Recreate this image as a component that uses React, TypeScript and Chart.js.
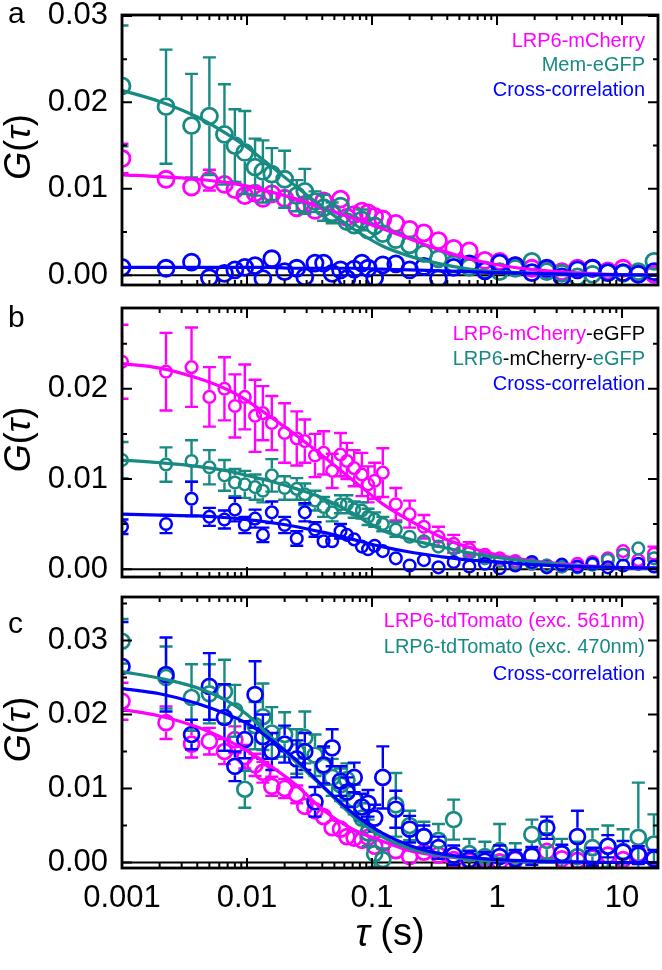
import React, { useEffect, useRef } from 'react';
import { Chart, registerables } from 'chart.js';

Chart.register(...registerables);

const FONT = '"Liberation Sans", Arial, Helvetica, sans-serif';
Chart.defaults.font.family = FONT;

const MAGENTA = '#ff00ff';
const TEAL = '#178a82';
const BLUE = '#0000ff';
const BLACK = '#000000';

// lag times (s) of the data points
const tau = [0.001, 0.00225, 0.0036, 0.005, 0.0066, 0.008, 0.0096, 0.0116, 0.0134, 0.0158, 0.02, 0.025, 0.029, 0.035, 0.041, 0.048, 0.056, 0.063, 0.072, 0.083, 0.093, 0.105, 0.122, 0.155, 0.2, 0.26, 0.34, 0.45, 0.6, 0.8, 1.05, 1.4, 1.9, 2.5, 3.3, 4.4, 5.8, 7.7, 10.2, 13.5, 18];
// lag times (s) at which the fit curves are sampled
const fitTau = [0.001, 0.002, 0.004, 0.007, 0.01, 0.015, 0.025, 0.04, 0.07, 0.12, 0.2, 0.35, 0.6, 1, 2, 4, 8, 20];

// ---------- panel a ----------
const aMagenta = [0.0135, 0.0111, 0.0102, 0.0110, 0.0105, 0.0099, 0.0092, 0.0095, 0.0089, 0.0094, 0.0089, 0.0078, 0.0082, 0.0075, 0.0086, 0.0071, 0.0088, 0.0067, 0.0070, 0.0074, 0.0072, 0.0068, 0.0065, 0.0060, 0.0053, 0.0049, 0.0040, 0.0031, 0.0028, 0.0017, 0.0016, 0.0011, 0.0008, 0.0005, 0.0004, 0.0008, 0.0008, 0.0005, 0.0008, 0.0002, 0.0001];
const aMagentaErr = [0.0017, 0.0010, 0.0008, 0.0012, 0.0010, 0.0009, 0.0009, 0.0008, 0.0009, 0.0008, 0.0009, 0.0009, 0.0008, 0.0008, 0.0008, 0.0008, 0.0009, 0.0007, 0.0007, 0.0008, 0.0007, 0.0007, 0.0007, 0.0006, 0.0006, 0.0005, 0.0005, 0.0005, 0.0004, 0.0004, 0.0004, 0.0004, 0.0003, 0.0003, 0.0003, 0.0003, 0.0003, 0.0003, 0.0003, 0.0003, 0.0003];
const aTeal = [0.0219, 0.0195, 0.0173, 0.0184, 0.0163, 0.0150, 0.0142, 0.0125, 0.0120, 0.0117, 0.0111, 0.0092, 0.0097, 0.0085, 0.0078, 0.0072, 0.0080, 0.0062, 0.0058, 0.0064, 0.0052, 0.0057, 0.0048, 0.0041, 0.0035, 0.0025, 0.0019, 0.0013, 0.0009, 0.0006, 0.0004, 0.0008, 0.0016, 0.0004, 0.0002, -0.0002, 0.0001, 0.0003, 0.0002, 0.0004, 0.0016];
const aTealErr = [0.0070, 0.0066, 0.0060, 0.0068, 0.0058, 0.0042, 0.0048, 0.0033, 0.0036, 0.0030, 0.0033, 0.0018, 0.0026, 0.0012, 0.0015, 0.0012, 0.0010, 0.0010, 0.0009, 0.0012, 0.0010, 0.0009, 0.0009, 0.0008, 0.0007, 0.0006, 0.0006, 0.0005, 0.0005, 0.0004, 0.0004, 0.0005, 0.0006, 0.0004, 0.0004, 0.0004, 0.0004, 0.0004, 0.0004, 0.0005, 0.0009];
const aBlue = [0.0009, 0.0008, 0.0015, -0.0003, 0.0002, 0.0006, 0.0009, 0.0011, -0.0004, 0.0019, 0.0004, 0.0008, -0.0002, 0.0014, 0.0014, 0.0002, 0.0006, -0.0004, 0.0007, 0.0014, 0.0008, -0.0003, 0.0012, 0.0013, 0.0006, 0.0010, -0.0004, 0.0009, 0.0013, 0.0005, 0.0014, 0.0011, 0.0003, 0.0008, -0.0002, 0.0006, 0.0008, 0.0003, 0.0003, 0.0001, 0.0004];
const aBlueErr = [0.0004, 0.0003, 0.0004, 0.0003, 0.0003, 0.0003, 0.0004, 0.0003, 0.0003, 0.0004, 0.0003, 0.0003, 0.0003, 0.0004, 0.0003, 0.0003, 0.0003, 0.0003, 0.0003, 0.0003, 0.0003, 0.0003, 0.0003, 0.0003, 0.0003, 0.0002, 0.0002, 0.0002, 0.0002, 0.0002, 0.0002, 0.0002, 0.0002, 0.0002, 0.0002, 0.0002, 0.0002, 0.0002, 0.0002, 0.0002, 0.0002];
const aFitMagenta = [0.0116, 0.0114, 0.0111, 0.0107, 0.0103, 0.0097, 0.0088, 0.0078, 0.0066, 0.0054, 0.0042, 0.0029, 0.0019, 0.0012, 0.0006, 0.0003, 0.0001, 0.00004];
const aFitTeal = [0.0214, 0.0201, 0.0183, 0.0163, 0.0148, 0.0128, 0.0102, 0.0079, 0.0054, 0.0034, 0.0022, 0.0013, 0.0007, 0.0004, 0.0002, 0.0001, 0.00004, 0.0];
const aFitBlue = [0.0009, 0.0009, 0.0009, 0.0009, 0.0009, 0.0009, 0.0008, 0.0008, 0.0008, 0.0007, 0.0006, 0.0005, 0.0004, 0.0003, 0.0002, 0.0001, 0.00005, 0.0];

// ---------- panel b ----------
const bMagenta = [0.0230, 0.0219, 0.0224, 0.0191, 0.0200, 0.0181, 0.0191, 0.0170, 0.0173, 0.0162, 0.0151, 0.0145, 0.0142, 0.0126, 0.0129, 0.0109, 0.0127, 0.0120, 0.0112, 0.0105, 0.0094, 0.0098, 0.0107, 0.0072, 0.0061, 0.0047, 0.0036, 0.0028, 0.0022, 0.0016, 0.0012, 0.0009, 0.0006, 0.0004, 0.0003, 0.0006, 0.0008, 0.0012, 0.0020, 0.0010, 0.0017];
const bMagentaErr = [0.0041, 0.0043, 0.0044, 0.0033, 0.0035, 0.0035, 0.0036, 0.0040, 0.0030, 0.0030, 0.0033, 0.0030, 0.0024, 0.0024, 0.0024, 0.0019, 0.0024, 0.0020, 0.0020, 0.0024, 0.0020, 0.0020, 0.0027, 0.0018, 0.0015, 0.0013, 0.0011, 0.0010, 0.0008, 0.0007, 0.0006, 0.0006, 0.0005, 0.0005, 0.0005, 0.0005, 0.0006, 0.0006, 0.0007, 0.0006, 0.0008];
const bTeal = [0.0121, 0.0116, 0.0120, 0.0113, 0.0104, 0.0096, 0.0094, 0.0091, 0.0087, 0.0104, 0.0090, 0.0089, 0.0083, 0.0076, 0.0069, 0.0063, 0.0072, 0.0072, 0.0066, 0.0065, 0.0058, 0.0055, 0.0050, 0.0044, 0.0036, 0.0031, 0.0025, 0.0023, 0.0018, 0.0012, 0.0009, 0.0007, 0.0006, 0.0004, 0.0003, 0.0002, 0.0005, 0.0010, 0.0016, 0.0023, 0.0012];
const bTealErr = [0.0020, 0.0019, 0.0023, 0.0019, 0.0017, 0.0015, 0.0015, 0.0014, 0.0013, 0.0018, 0.0013, 0.0012, 0.0012, 0.0011, 0.0011, 0.0010, 0.0010, 0.0010, 0.0009, 0.0009, 0.0009, 0.0008, 0.0008, 0.0008, 0.0007, 0.0007, 0.0006, 0.0006, 0.0005, 0.0005, 0.0004, 0.0004, 0.0004, 0.0004, 0.0004, 0.0004, 0.0005, 0.0005, 0.0006, 0.0006, 0.0006];
const bBlue = [0.0047, 0.0050, 0.0078, 0.0058, 0.0055, 0.0066, 0.0049, 0.0056, 0.0038, 0.0063, 0.0049, 0.0034, 0.0063, 0.0044, 0.0031, 0.0031, 0.0042, 0.0038, 0.0033, 0.0025, 0.0022, 0.0026, 0.0020, 0.0012, 0.0004, 0.0010, 0.0002, 0.0008, 0.0003, 0.0006, 0.0001, 0.0004, 0.0008, 0.0002, 0.0005, 0.0003, 0.0006, 0.0002, 0.0004, 0.0006, 0.0003];
const bBlueErr = [0.0008, 0.0010, 0.0019, 0.0010, 0.0010, 0.0013, 0.0009, 0.0010, 0.0008, 0.0012, 0.0009, 0.0008, 0.0010, 0.0008, 0.0007, 0.0007, 0.0008, 0.0007, 0.0007, 0.0006, 0.0006, 0.0006, 0.0005, 0.0005, 0.0004, 0.0004, 0.0004, 0.0004, 0.0003, 0.0003, 0.0003, 0.0003, 0.0003, 0.0003, 0.0003, 0.0003, 0.0003, 0.0003, 0.0003, 0.0003, 0.0003];
const bFitMagenta = [0.0228, 0.0223, 0.0212, 0.0199, 0.0187, 0.0170, 0.0148, 0.0126, 0.0099, 0.0073, 0.0054, 0.0036, 0.0024, 0.0016, 0.0009, 0.0005, 0.0002, 0.0001];
const bFitTeal = [0.0121, 0.0118, 0.0114, 0.0109, 0.0104, 0.0098, 0.0089, 0.0079, 0.0062, 0.0043, 0.0033, 0.0025, 0.0018, 0.0013, 0.0008, 0.0004, 0.0002, 0.0001];
const bFitBlue = [0.0061, 0.0060, 0.0059, 0.0057, 0.0055, 0.0052, 0.0047, 0.0041, 0.0033, 0.0025, 0.0019, 0.0014, 0.0010, 0.0008, 0.0005, 0.0003, 0.0002, 0.0001];

// ---------- panel c ----------
const cMagenta = [0.0218, 0.0189, 0.0160, 0.0164, 0.0150, 0.0166, 0.0143, 0.0132, 0.0122, 0.0103, 0.0100, 0.0092, 0.0076, 0.0070, 0.0062, 0.0047, 0.0045, 0.0035, 0.0033, 0.0030, 0.0034, 0.0022, 0.0026, 0.0016, 0.0008, 0.0014, 0.0010, 0.0004, 0.0002, 0.0006, 0.0001, 0.0004, 0.0009, 0.0015, 0.0005, 0.0003, 0.0006, 0.0010, 0.0004, 0.0012, 0.0006];
const cMagentaErr = [0.0025, 0.0022, 0.0018, 0.0018, 0.0017, 0.0018, 0.0016, 0.0015, 0.0014, 0.0013, 0.0013, 0.0012, 0.0011, 0.0011, 0.0010, 0.0010, 0.0009, 0.0009, 0.0009, 0.0008, 0.0009, 0.0008, 0.0008, 0.0007, 0.0007, 0.0007, 0.0006, 0.0006, 0.0006, 0.0006, 0.0006, 0.0006, 0.0007, 0.0008, 0.0007, 0.0006, 0.0007, 0.0008, 0.0007, 0.0008, 0.0007];
const cTeal = [0.0299, 0.0250, 0.0223, 0.0228, 0.0231, 0.0205, 0.0099, 0.0185, 0.0197, 0.0175, 0.0173, 0.0150, 0.0169, 0.0145, 0.0130, 0.0115, 0.0105, 0.0112, 0.0085, 0.0060, 0.0040, 0.0012, 0.0004, 0.0078, 0.0050, 0.0035, 0.0030, 0.0058, 0.0012, 0.0008, 0.0016, 0.0006, 0.0038, 0.0030, 0.0012, 0.0008, 0.0020, 0.0022, 0.0015, 0.0034, 0.0025];
const cTealErr = [0.0030, 0.0042, 0.0045, 0.0040, 0.0043, 0.0035, 0.0025, 0.0032, 0.0045, 0.0035, 0.0030, 0.0030, 0.0035, 0.0028, 0.0025, 0.0025, 0.0022, 0.0022, 0.0020, 0.0020, 0.0018, 0.0018, 0.0015, 0.0043, 0.0020, 0.0020, 0.0022, 0.0027, 0.0020, 0.0020, 0.0036, 0.0020, 0.0020, 0.0025, 0.0020, 0.0020, 0.0025, 0.0028, 0.0030, 0.0074, 0.0040];
const cBlue = [0.0265, 0.0254, 0.0173, 0.0238, 0.0196, 0.0130, 0.0166, 0.0227, 0.0170, 0.0150, 0.0160, 0.0140, 0.0150, 0.0082, 0.0132, 0.0155, 0.0110, 0.0095, 0.0115, 0.0075, 0.0080, 0.0060, 0.0115, 0.0072, 0.0045, 0.0035, 0.0020, 0.0010, 0.0004, 0.0002, 0.0008, 0.0005, 0.0009, 0.0047, 0.0012, 0.0035, 0.0008, 0.0022, 0.0014, 0.0010, 0.0005];
const cBlueErr = [0.0060, 0.0050, 0.0020, 0.0045, 0.0045, 0.0020, 0.0025, 0.0045, 0.0030, 0.0025, 0.0025, 0.0025, 0.0025, 0.0020, 0.0025, 0.0025, 0.0020, 0.0020, 0.0020, 0.0018, 0.0018, 0.0018, 0.0042, 0.0025, 0.0018, 0.0015, 0.0015, 0.0013, 0.0012, 0.0012, 0.0015, 0.0012, 0.0012, 0.0015, 0.0012, 0.0035, 0.0012, 0.0015, 0.0015, 0.0012, 0.0012];
const cFitMagenta = [0.0207, 0.0198, 0.0183, 0.0165, 0.0151, 0.0132, 0.0104, 0.0072, 0.0045, 0.0029, 0.0016, 0.0009, 0.0005, 0.0003, 0.0001, 0.00005, 0.0, 0.0];
const cFitTeal = [0.0258, 0.0249, 0.0236, 0.0218, 0.0200, 0.0172, 0.0135, 0.0103, 0.0063, 0.0035, 0.0019, 0.0010, 0.0005, 0.0003, 0.0001, 0.00005, 0.0, 0.0];
const cFitBlue = [0.0235, 0.0228, 0.0215, 0.0200, 0.0188, 0.0168, 0.0138, 0.0104, 0.0067, 0.0040, 0.0023, 0.0012, 0.0007, 0.0004, 0.0002, 0.0001, 0.0, 0.0];

// ---------- axes ----------
const xTickValues = [0.001, 0.01, 0.1, 1, 10];
const xTickLabels = ['0.001', '0.01', '0.1', '1', '10'];
const yTicksA = [0, 0.01, 0.02, 0.03];
const yLabelsA = ['0.00', '0.01', '0.02', '0.03'];
const yMinorA = [0.005, 0.015, 0.025];
const yTicksB = [0, 0.01, 0.02];
const yLabelsB = ['0.00', '0.01', '0.02'];
const yMinorB = [0.005, 0.015, 0.025];
const yTicksC = [0, 0.01, 0.02, 0.03];
const yLabelsC = ['0.00', '0.01', '0.02', '0.03'];
const yMinorC = [0.005, 0.015, 0.025, 0.035];

// ---------- legends ----------
const legendA = [
  [{ text: 'LRP6-mCherry', color: MAGENTA }],
  [{ text: 'Mem-eGFP', color: TEAL }],
  [{ text: 'Cross-correlation', color: BLUE }],
];
const legendB = [
  [{ text: 'LRP6-mCherry', color: MAGENTA }, { text: '-eGFP', color: BLACK }],
  [{ text: 'LRP6', color: TEAL }, { text: '-mCherry-', color: BLACK }, { text: 'eGFP', color: TEAL }],
  [{ text: 'Cross-correlation', color: BLUE }],
];
const legendC = [
  [{ text: 'LRP6-tdTomato (exc. 561nm)', color: MAGENTA }],
  [{ text: 'LRP6-tdTomato (exc. 470nm)', color: TEAL }],
  [{ text: 'Cross-correlation', color: BLUE }],
];

const X_MIN = 0.001;
const X_MAX = 19.4;
const W = 662;

const panels = [
  {
    letter: 'a', top: 0, height: 295, plotTop: 15, plotBottom: 290, yMin: -0.00114, yMax: 0.03011,
    yTicks: yTicksA, yLabels: yLabelsA, yMinor: yMinorA, legend: legendA, legendBase: [47, 71, 96], letterBase: 23,
    radius: 8, border: 2.8, showX: false,
    series: [
      { color: BLUE, y: aBlue, err: aBlueErr, fit: aFitBlue },
      { color: TEAL, y: aTeal, err: aTealErr, fit: aFitTeal },
      { color: MAGENTA, y: aMagenta, err: aMagentaErr, fit: aFitMagenta },
    ],
  },
  {
    letter: 'b', top: 295, height: 290, plotTop: 13, plotBottom: 286, yMin: -0.00087, yMax: 0.02896,
    yTicks: yTicksB, yLabels: yLabelsB, yMinor: yMinorB, legend: legendB, legendBase: [45, 70, 95], letterBase: 32,
    radius: 5.8, border: 2.5, showX: false,
    series: [
      { color: BLUE, y: bBlue, err: bBlueErr, fit: bFitBlue },
      { color: TEAL, y: bTeal, err: bTealErr, fit: bFitTeal },
      { color: MAGENTA, y: bMagenta, err: bMagentaErr, fit: bFitMagenta },
    ],
  },
  {
    letter: 'c', top: 585, height: 385, plotTop: 12, plotBottom: 283, yMin: -0.00074, yMax: 0.03588,
    yTicks: yTicksC, yLabels: yLabelsC, yMinor: yMinorC, legend: legendC, legendBase: [42, 68, 95], letterBase: 48,
    radius: 7.5, border: 2.7, showX: true,
    series: [
      { color: BLUE, y: cBlue, err: cBlueErr, fit: cFitBlue },
      { color: TEAL, y: cTeal, err: cTealErr, fit: cFitTeal },
      { color: MAGENTA, y: cMagenta, err: cMagentaErr, fit: cFitMagenta },
    ],
  },
];

function drawSegments(ctx: CanvasRenderingContext2D, segs: { text: string; font: string; color?: string }[], x: number, y: number, align: 'center' | 'right') {
  let total = 0;
  const widths = segs.map((s) => {
    ctx.font = s.font;
    const w = ctx.measureText(s.text).width;
    total += w;
    return w;
  });
  let cx = align === 'center' ? x - total / 2 : x - total;
  segs.forEach((s, i) => {
    ctx.font = s.font;
    ctx.fillStyle = s.color || BLACK;
    ctx.textAlign = 'left';
    ctx.fillText(s.text, cx, y);
    cx += widths[i];
  });
}

function makePlugin(p: any) {
  return {
    id: 'decor' + p.letter,
    beforeDatasetsDraw(chart: any) {
      const { ctx, chartArea: ca } = chart;
      const y0 = chart.scales.y.getPixelForValue(0);
      ctx.save();
      ctx.strokeStyle = BLACK;
      ctx.lineWidth = 2;
      ctx.beginPath();
      ctx.moveTo(ca.left, y0);
      ctx.lineTo(ca.right, y0);
      ctx.stroke();
      ctx.restore();
    },
    afterDatasetDraw(chart: any, args: any) {
      const ds = chart.data.datasets[args.index];
      if (!ds.errors) return;
      const { ctx, chartArea: ca } = chart;
      const xs = chart.scales.x;
      const ys = chart.scales.y;
      const r = p.radius + p.border / 2;
      const cap = 6.5;
      ctx.save();
      ctx.beginPath();
      ctx.rect(ca.left, ca.top, ca.right - ca.left, ca.bottom - ca.top);
      ctx.clip();
      ctx.strokeStyle = ds.borderColor;
      ctx.lineWidth = 2.4;
      ctx.beginPath();
      ds.data.forEach((pt: any, i: number) => {
        const e = ds.errors[i];
        const px = xs.getPixelForValue(pt.x);
        const py = ys.getPixelForValue(pt.y);
        const top = ys.getPixelForValue(pt.y + e);
        const bot = ys.getPixelForValue(pt.y - e);
        if (top < py - r) {
          ctx.moveTo(px, py - r); ctx.lineTo(px, top);
          ctx.moveTo(px - cap, top); ctx.lineTo(px + cap, top);
        }
        if (bot > py + r) {
          ctx.moveTo(px, py + r); ctx.lineTo(px, bot);
          ctx.moveTo(px - cap, bot); ctx.lineTo(px + cap, bot);
        }
      });
      ctx.stroke();
      ctx.restore();
    },
    afterDraw(chart: any) {
      const { ctx, chartArea: ca } = chart;
      const xs = chart.scales.x;
      const ys = chart.scales.y;
      ctx.save();
      // ticks
      ctx.strokeStyle = BLACK;
      ctx.lineWidth = 2;
      ctx.beginPath();
      const yTick = (v: number, len: number) => {
        const py = ys.getPixelForValue(v);
        ctx.moveTo(ca.left, py); ctx.lineTo(ca.left + len, py);
        ctx.moveTo(ca.right, py); ctx.lineTo(ca.right - len, py);
      };
      const xTick = (v: number, len: number) => {
        const px = xs.getPixelForValue(v);
        ctx.moveTo(px, ca.top); ctx.lineTo(px, ca.top + len);
        ctx.moveTo(px, ca.bottom); ctx.lineTo(px, ca.bottom - len);
      };
      p.yTicks.forEach((v: number) => yTick(v, 10));
      p.yMinor.forEach((v: number) => yTick(v, 5));
      xTickValues.forEach((v) => xTick(v, 10));
      for (let d = -3; d <= 1; d++) {
        for (let m = 2; m <= 9; m++) {
          const v = m * Math.pow(10, d);
          if (v < X_MAX) xTick(v, 5);
        }
      }
      ctx.stroke();
      // frame
      ctx.lineWidth = 2.8;
      ctx.strokeRect(ca.left, ca.top, ca.right - ca.left, ca.bottom - ca.top);
      // legend
      ctx.textBaseline = 'alphabetic';
      p.legend.forEach((line: any[], i: number) => {
        drawSegments(ctx, line.map((s) => ({ text: s.text, color: s.color, font: `20px ${FONT}` })), 645, p.legendBase[i], 'right');
      });
      // panel letter
      ctx.fillStyle = BLACK;
      ctx.font = `30px ${FONT}`;
      ctx.textAlign = 'left';
      ctx.fillText(p.letter, 8, p.letterBase);
      // y title
      ctx.save();
      ctx.translate(20, (ca.top + ca.bottom) / 2 - 3);
      ctx.rotate(-Math.PI / 2);
      ctx.textBaseline = 'middle';
      drawSegments(ctx, [
        { text: 'G', font: `italic 36px ${FONT}` },
        { text: '(', font: `36px ${FONT}` },
        { text: 'τ', font: `italic 36px ${FONT}` },
        { text: ')', font: `36px ${FONT}` },
      ], 0, 0, 'center');
      ctx.restore();
      // x title
      if (p.showX) {
        ctx.textBaseline = 'middle';
        drawSegments(ctx, [
          { text: 'τ', font: `italic 38px ${FONT}` },
          { text: ' (s)', font: `38px ${FONT}` },
        ], (ca.left + ca.right) / 2, 350, 'center');
      }
      ctx.restore();
    },
  };
}

function makeChart(canvas: HTMLCanvasElement, p: any) {
  const datasets: any[] = [];
  p.series.forEach((s: any) => {
    datasets.push({
      data: tau.map((x, i) => ({ x, y: s.y[i] })),
      errors: s.err,
      borderColor: s.color,
      backgroundColor: 'rgba(0,0,0,0)',
      pointBorderColor: s.color,
      pointBackgroundColor: 'rgba(0,0,0,0)',
      pointRadius: p.radius,
      pointHoverRadius: p.radius,
      pointBorderWidth: p.border,
      showLine: false,
      clip: 0,
      order: 1,
    });
  });
  p.series.forEach((s: any) => {
    datasets.push({
      data: fitTau.map((x, i) => ({ x, y: s.fit[i] })),
      borderColor: s.color,
      backgroundColor: s.color,
      borderWidth: 3.2,
      pointRadius: 0,
      pointHoverRadius: 0,
      showLine: true,
      cubicInterpolationMode: 'monotone',
      clip: 0,
      order: 0,
    });
  });
  return new Chart(canvas, {
    type: 'scatter',
    data: { datasets },
    plugins: [makePlugin(p)],
    options: {
      responsive: false,
      animation: false,
      events: [],
      layout: {
        autoPadding: false,
        padding: { top: p.plotTop, right: W - 658, left: 0, bottom: p.showX ? 0 : p.height - p.plotBottom },
      },
      plugins: { legend: { display: false }, tooltip: { enabled: false } },
      scales: {
        x: {
          type: 'logarithmic',
          min: X_MIN,
          max: X_MAX,
          display: p.showX,
          grid: { display: false, drawTicks: false },
          border: { display: false },
          ticks: {
            display: p.showX,
            autoSkip: false,
            maxRotation: 0,
            padding: 12,
            color: BLACK,
            font: { size: 31, family: FONT },
            callback: (_v: any, i: number) => xTickLabels[i],
          },
          afterBuildTicks: (s: any) => { s.ticks = xTickValues.map((v) => ({ value: v })); },
          afterFit: (s: any) => { s.height = p.height - p.plotBottom; s.paddingLeft = 0; s.paddingRight = 0; },
        },
        y: {
          type: 'linear',
          min: p.yMin,
          max: p.yMax,
          grid: { display: false, drawTicks: false },
          border: { display: false },
          ticks: {
            autoSkip: false,
            padding: 14,
            color: BLACK,
            font: { size: 31, family: FONT },
            callback: (_v: any, i: number) => p.yLabels[i],
          },
          afterBuildTicks: (s: any) => { s.ticks = p.yTicks.map((v: number) => ({ value: v })); },
          afterFit: (s: any) => { s.width = 122; s.paddingTop = 0; s.paddingBottom = 0; },
        },
      },
    } as any,
  });
}

export default function App() {
  const refA = useRef<HTMLCanvasElement>(null);
  const refB = useRef<HTMLCanvasElement>(null);
  const refC = useRef<HTMLCanvasElement>(null);
  const refs = [refA, refB, refC];
  useEffect(() => {
    const charts = panels.map((p, i) => makeChart(refs[i].current as HTMLCanvasElement, p));
    return () => charts.forEach((c) => c.destroy());
  }, []);
  return (
    <div style={{ position: 'absolute', left: 0, top: 0, width: W, height: 970, background: '#ffffff' }}>
      {panels.map((p, i) => (
        <canvas
          key={p.letter}
          ref={refs[i]}
          width={W}
          height={p.height}
          style={{ position: 'absolute', left: 0, top: p.top, width: W, height: p.height }}
        />
      ))}
    </div>
  );
}
